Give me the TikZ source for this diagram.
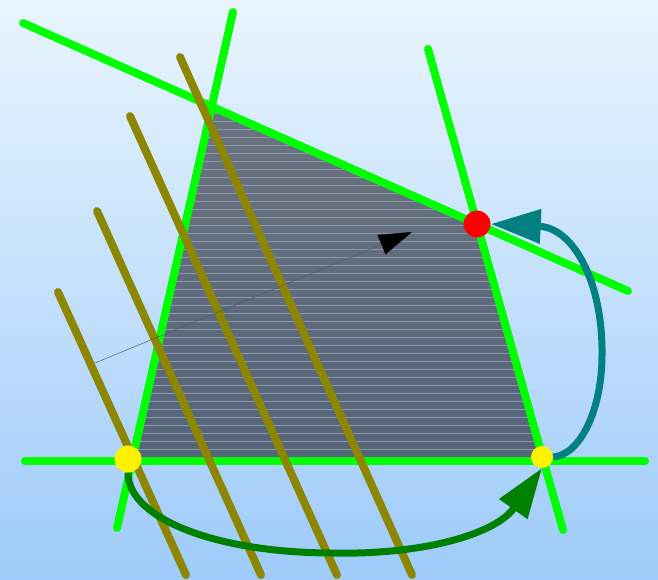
\documentclass[tikz,border=0pt]{standalone}
\usepackage{tikz}
\usetikzlibrary{arrows.meta}

\definecolor{skytop}{RGB}{233,245,254}
\definecolor{skybot}{RGB}{158,203,250}
\definecolor{regtop}{RGB}{108,116,128}
\definecolor{regbot}{RGB}{84,100,122}
\definecolor{stripe}{RGB}{140,152,168}
\definecolor{bound}{RGB}{0,255,0}
\definecolor{grad}{RGB}{80,90,110}

\begin{document}
\begin{tikzpicture}[x=1pt, y=-1pt,
  side/.style={draw=bound, line width=8pt, line cap=round},
  level/.style={draw=olive, line width=8pt, line cap=round},
  dot/.style={circle, inner sep=0pt, minimum size=#1},
  move/.style={line width=7pt, -{Triangle[length=50pt, width=33pt]}}]
  \useasboundingbox (0,0) rectangle (658,579);
  \shade[top color=skytop, bottom color=skybot] (0,0) rectangle (658,579);

  % feasible region
  \coordinate (c1) at (212,107);
  \coordinate (c2) at (477,224);
  \coordinate (c3) at (543,461);
  \coordinate (c4) at (132,461);
  \begin{scope}
    \clip (c1) -- (c2) -- (c3) -- (c4) -- cycle;
    \shade[top color=regtop, bottom color=regbot] (100,100) rectangle (560,465);
    \foreach \y in {113,121,...,457}
      \draw[stripe, line width=0.5pt] (100,\y) -- (560,\y);
  \end{scope}

  % constraint lines
  \coordinate (t1) at (23,23);   \coordinate (t2) at (628,291);
  \coordinate (l1) at (233,12);  \coordinate (l2) at (117,528);
  \coordinate (r1) at (428,49);  \coordinate (r2) at (563,530);
  \coordinate (b1) at (25,461);  \coordinate (b2) at (645,461);
  \draw[side] (t1) -- (t2);
  \draw[side] (l1) -- (l2);
  \draw[side] (r1) -- (r2);
  \draw[side] (b1) -- (b2);

  % objective level lines
  \coordinate (o1) at (58,292);  \coordinate (p1) at (186,575);
  \coordinate (o2) at (97,211);  \coordinate (p2) at (261,575);
  \coordinate (o3) at (130,116); \coordinate (p3) at (337,575);
  \coordinate (o4) at (180,57);  \coordinate (p4) at (412,575);
  \foreach \i in {1,...,4}
    \draw[level] (o\i) -- (p\i);

  % gradient direction
  \coordinate (gs) at (95,363);
  \coordinate (ge) at (412,232);
  \draw[grad, line width=0.5pt,
    -{Triangle[length=33pt, width=21pt, black]}] (gs) -- (ge);

  % vertices
  \node[dot=27pt, fill=red] (opt) at (477,224) {};
  \node[dot=27pt, fill=yellow] (bl) at (128,459) {};
  \node[dot=22pt, fill=yellow] (br) at (542,457) {};

  % simplex steps
  \draw[move, draw=green!50!black] (bl.south)
    .. controls (128,520) and (220,553) .. (333,553)
    .. controls (420,555) and (495,535) .. (br.south);
  \draw[move, draw=teal] (br.east)
    .. controls (580,455) and (602,410) .. (602,355)
    .. controls (603,285) and (575,228) .. (opt.east);
\end{tikzpicture}
\end{document}
